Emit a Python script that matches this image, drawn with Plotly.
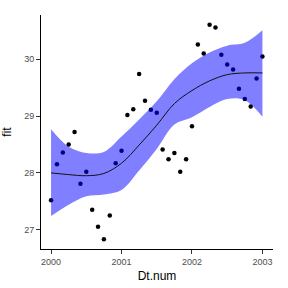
import plotly.graph_objects as go

# observed points (monthly)
dt_num = [2000 + i / 12 for i in range(37)]
obs = [27.52, 28.15, 28.36, 28.50, 28.72, 27.81, 28.02, 27.35, 27.05, 26.83,
       27.25, 28.17, 28.39, 29.02, 29.12, 29.74, 29.27, 29.11, 29.06, 28.41,
       28.24, 28.35, 28.02, 28.24, 28.82, 30.26, 30.10, 30.61, 30.56, 30.08,
       29.91, 29.82, 29.48, 29.30, 29.17, 29.66, 30.05]

# smooth fit with confidence band (quarterly)
sm_x = [2000, 2000.25, 2000.5, 2000.75, 2001, 2001.25, 2001.5, 2001.75,
        2002, 2002.25, 2002.5, 2002.75, 2003]
sm_fit = [28.00, 27.97, 27.95, 27.99, 28.17, 28.49, 28.84, 29.22, 29.45,
          29.62, 29.73, 29.76, 29.76]
sm_up = [28.77, 28.46, 28.35, 28.37, 28.64, 28.94, 29.26, 29.65, 29.93,
         30.12, 30.24, 30.29, 30.51]
sm_lo = [27.24, 27.44, 27.59, 27.62, 27.70, 28.04, 28.42, 28.85, 28.98,
         29.16, 29.30, 29.28, 28.99]

x_ticks = [2000, 2001, 2002, 2003]
y_ticks = [27, 28, 29, 30]
x_range = [1999.857, 2003.15]
y_range = [26.66, 30.78]

fig = go.Figure()
fig.add_trace(go.Scatter(x=dt_num, y=obs, mode="markers",
                         marker=dict(color="black", size=4.5), showlegend=False))
fig.add_trace(go.Scatter(x=sm_x, y=sm_lo, mode="lines", xaxis="x2", yaxis="y2",
                         line=dict(width=0, shape="spline"), showlegend=False))
fig.add_trace(go.Scatter(x=sm_x, y=sm_up, mode="lines", fill="tonexty",
                         xaxis="x2", yaxis="y2",
                         fillcolor="rgba(0,0,255,0.5)",
                         line=dict(width=0, shape="spline"), showlegend=False))
fig.add_trace(go.Scatter(x=sm_x, y=sm_fit, mode="lines", xaxis="x2", yaxis="y2",
                         line=dict(color="#111111", width=1, shape="spline"),
                         showlegend=False))

axis_common = dict(showgrid=False, zeroline=False, showline=True,
                   linecolor="black", linewidth=1, ticks="outside",
                   ticklen=4, tickwidth=1, tickcolor="#333333",
                   automargin=False,
                   tickfont=dict(size=9, color="#4d4d4d",
                                 family="Liberation Sans"))

fig.update_layout(
    width=288, height=288,
    margin=dict(l=41, r=15, t=15, b=39),
    paper_bgcolor="white", plot_bgcolor="white",
    font=dict(family="Liberation Sans", color="black"),
    xaxis=dict(range=x_range, tickvals=x_ticks,
               ticktext=[str(v) for v in x_ticks],
               title=dict(text="Dt.num", font=dict(size=12), standoff=5),
               **axis_common),
    yaxis=dict(range=y_range, tickvals=y_ticks,
               ticktext=[str(v) for v in y_ticks],
               title=dict(text="fit", font=dict(size=12), standoff=9),
               **axis_common),
    xaxis2=dict(range=x_range, overlaying="x", visible=False),
    yaxis2=dict(range=y_range, overlaying="y", visible=False),
)

fig.write_html("out.html")
